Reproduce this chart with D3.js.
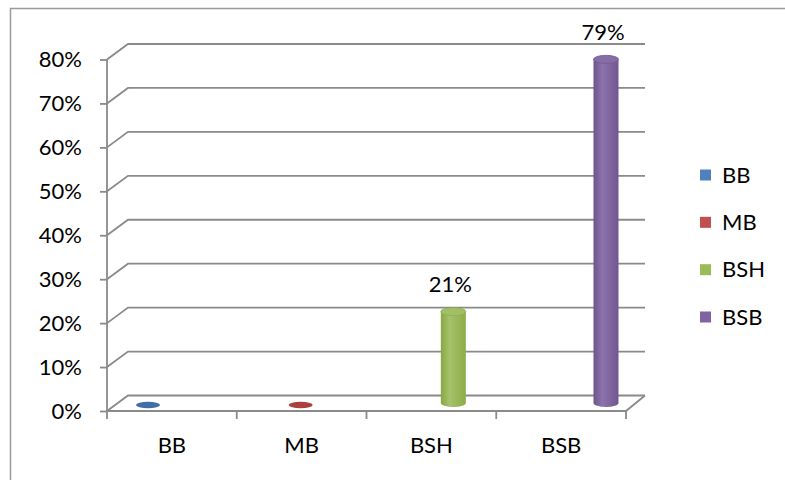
<!DOCTYPE html>
<html>
<head>
<meta charset="utf-8">
<script src="https://cdn.jsdelivr.net/npm/d3@7"></script>
<style>
  body { margin: 0; background: #fff; }
  text { font-family: Lato, "Open Sans", sans-serif; fill: #000; }
</style>
</head>
<body>
<div id="chart"></div>
<script>
// data
let categories = ["BB", "MB", "BSH", "BSB"];
let values = [0, 0, 0.21, 0.79];
let colors = ["#4F81BD", "#C0504D", "#9BBB59", "#8064A2"];
let yTicks = [0, 0.1, 0.2, 0.3, 0.4, 0.5, 0.6, 0.7, 0.8];

let width = 785;
let height = 480;
let fontSize = "22px";

// depth of the 3d box
let dx = 21, dy = -15.5;

let svg = d3.select("#chart")
    .append("svg")
    .attr("width", width)
    .attr("height", height);

// outer border (cut at right / bottom)
svg.append("path")
    .attr("d", "M10.5,480 V8.5 H785")
    .attr("fill", "none")
    .attr("stroke", "#9a9a9a")
    .attr("stroke-width", 1.5);

let xScale = d3.scaleBand()
    .domain(categories)
    .range([107, 626]);

let yScale = d3.scaleLinear()
    .domain([0, 0.8])
    .range([411, 59.5]);

// where the cylinders sit (perspective puts them a bit wider apart)
let xBar = d3.scalePoint()
    .domain(categories)
    .range([148, 606]);

let yBar = d3.scaleLinear()
    .domain([0, 0.8])
    .range([403, 55]);

let fmt = d3.format(".0%");
let gridColor = "#8a8a8a";

// gridlines on the back wall + diagonals
let grid = svg.append("g")
    .attr("fill", "none")
    .attr("stroke", gridColor)
    .attr("stroke-width", 1.8);

grid.selectAll("path.grid")
    .data(yTicks)
    .join("path")
    .attr("class", "grid")
    .attr("d", d => {
        let x0 = xScale.range()[0];
        let y0 = yScale(d);
        return `M${x0},${y0} L${x0 + dx},${y0 + dy} H${xScale.range()[1] + dx - 2}`;
    });

// floor front + right edge
grid.append("path")
    .attr("d", () => {
        let [x0, x1] = xScale.range();
        let y0 = yScale(0);
        return `M${x0},${y0} H${x1} L${x1 + dx - 2},${y0 + dy}`;
    });

// y axis
let yAxis = d3.axisLeft(yScale)
    .tickValues(yTicks)
    .tickFormat(fmt)
    .tickSize(7)
    .tickPadding(18);

let ya = svg.append("g")
    .attr("transform", `translate(${xScale.range()[0]},0)`)
    .call(yAxis);
ya.select(".domain").attr("stroke", gridColor).attr("stroke-width", 1.8)
    .attr("d", `M0,${yScale(0.8)} V${yScale(0)}`);
ya.selectAll(".tick line").attr("stroke", gridColor).attr("stroke-width", 1.8);
ya.selectAll(".tick text")
    .style("font-family", "Lato, sans-serif")
    .style("font-size", fontSize)
    .attr("fill", "#000");

// x axis
let xa = svg.append("g")
    .attr("transform", `translate(0,${yScale(0)})`);
let edges = categories.map(c => xScale(c)).concat([xScale.range()[1]]);
xa.selectAll("line")
    .data(edges)
    .join("line")
    .attr("x1", d => d).attr("x2", d => d)
    .attr("y1", 0).attr("y2", 8)
    .attr("stroke", gridColor)
    .attr("stroke-width", 1.8);
xa.selectAll("text")
    .data(categories)
    .join("text")
    .attr("x", d => xScale(d) + xScale.bandwidth() / 2)
    .attr("y", 34)
    .attr("dy", "0.35em")
    .attr("text-anchor", "middle")
    .style("font-size", fontSize)
    .text(d => d);

// gradients for the cylinders
let defs = svg.append("defs");
colors.forEach((c, i) => {
    let base = d3.hsl(c);
    let g = defs.append("linearGradient")
        .attr("id", "cyl" + i)
        .attr("x1", "0%").attr("x2", "100%");
    g.append("stop").attr("offset", "0%").attr("stop-color", base.darker(0.45));
    g.append("stop").attr("offset", "35%").attr("stop-color", base.brighter(0.25));
    g.append("stop").attr("offset", "100%").attr("stop-color", base.darker(0.35));
});

let rx = 12.5, ry = 4;

let bars = svg.append("g")
    .selectAll("g")
    .data(categories.map((c, i) => ({ cat: c, value: values[i], color: colors[i], i: i })))
    .join("g");

bars.each(function (d) {
    let g = d3.select(this);
    let cx = xBar(d.cat);
    let yb = yBar(0);
    let yt = yBar(d.value);
    if (d.value <= 0) {
        g.append("ellipse")
            .attr("cx", cx).attr("cy", yb + 2)
            .attr("rx", 12).attr("ry", 3.2)
            .attr("fill", d3.hsl(d.color).darker(0.4));
        return;
    }
    g.append("path")
        .attr("d", `M${cx - rx},${yt} V${yb} A${rx},${ry} 0 0 0 ${cx + rx},${yb} V${yt} Z`)
        .attr("fill", `url(#cyl${d.i})`);
    g.append("ellipse")
        .attr("cx", cx).attr("cy", yt)
        .attr("rx", rx).attr("ry", ry)
        .attr("fill", d3.hsl(d.color).brighter(0.15))
        .attr("stroke", d3.hsl(d.color).darker(0.3))
        .attr("stroke-width", 0.8);
    g.append("text")
        .attr("x", cx - 3)
        .attr("y", yt - 27)
        .attr("dy", "0.35em")
        .attr("text-anchor", "middle")
        .style("font-size", fontSize)
        .text(fmt(d.value));
});

// legend
let legend = svg.append("g")
    .attr("transform", "translate(700,0)");
let legendY = d3.scalePoint()
    .domain(categories)
    .range([175, 317]);
legend.selectAll("rect")
    .data(categories)
    .join("rect")
    .attr("x", 0)
    .attr("y", d => legendY(d) - 5.5)
    .attr("width", 11)
    .attr("height", 11)
    .attr("fill", (d, i) => colors[i]);
legend.selectAll("text")
    .data(categories)
    .join("text")
    .attr("x", 22)
    .attr("y", d => legendY(d))
    .attr("dy", "0.35em")
    .style("font-size", fontSize)
    .text(d => d);
</script>
</body>
</html>
